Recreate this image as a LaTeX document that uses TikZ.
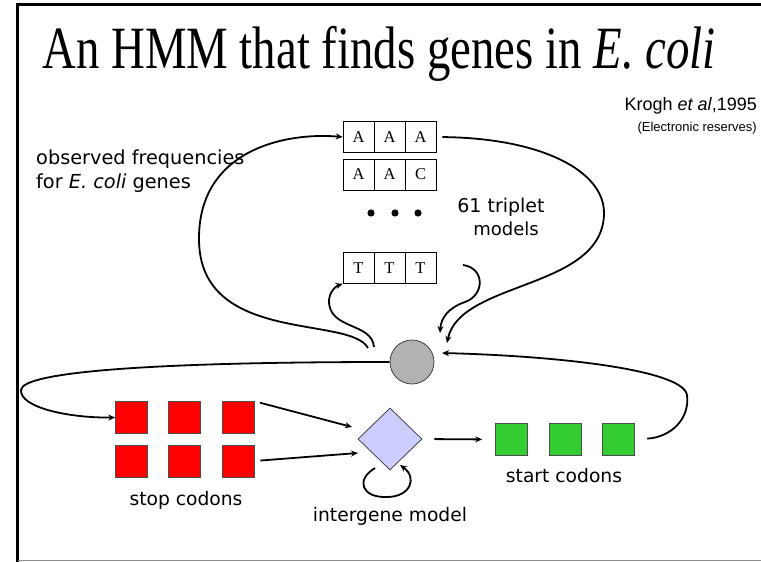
\documentclass[tikz,border=0pt]{standalone}
\usepackage{fontspec}
\setmainfont{Liberation Serif}
\newfontfamily\arialfont{Liberation Sans}
\newfontfamily\casualfont{DejaVu Sans}
\usetikzlibrary{arrows.meta,shapes.geometric}

\begin{document}
\begin{tikzpicture}[x=1pt,y=-1pt,
  link/.style={line width=1.8pt,-{Stealth[length=7pt,width=6pt]}},
  cell/.style={draw,line width=0.6pt,minimum width=31pt,minimum height=31pt,
    inner sep=0pt,font=\fontsize{16.5}{18}\selectfont},
  stopbox/.style={draw=black!70,line width=0.6pt,fill=red,minimum size=32pt,inner sep=0pt},
  startbox/.style={draw=black!70,line width=0.6pt,fill={rgb,255:red,51;green,204;blue,51},minimum size=32pt,inner sep=0pt},
  casual/.style={font=\casualfont\fontsize{18.7}{22}\selectfont,inner sep=0pt}]

\useasboundingbox (0,0) rectangle (761,562);
\fill[white] (0,0) rectangle (761,562);

% frame
\draw[line width=3pt,line cap=rect] (17,562) -- (17,4) -- (761,4);
\draw[line width=1.5pt,black!45] (18,560.5) -- (761,560.5);

% title and reference
\node[anchor=base,inner sep=0pt,font=\fontsize{60}{70}\selectfont] (title) at (379,68)
  {\scalebox{0.78}[1]{An HMM that finds genes in \textit{E.\ coli}}};
\node[anchor=base east,inner sep=0pt,font=\arialfont\fontsize{18}{20}\selectfont] (ref) at (757,110)
  {Krogh \textit{et al},1995};
\node[anchor=base east,inner sep=0pt,font=\arialfont\fontsize{13}{15}\selectfont] (res) at (757,131)
  {(Electronic reserves)};

% triplet models
\node[cell] (a1) at (358.5,137) {A};
\node[cell] (a2) at (389.5,137) {A};
\node[cell] (a3) at (420.5,137) {A};
\node[cell] (b1) at (358.5,174.5) {A};
\node[cell] (b2) at (389.5,174.5) {A};
\node[cell] (b3) at (420.5,174.5) {C};
\node[cell] (t1) at (358.5,268) {T};
\node[cell] (t2) at (389.5,268) {T};
\node[cell] (t3) at (420.5,268) {T};
\foreach \x in {371,395,418} \fill (\x,213) circle (3.6pt);

% labels
\node[casual,anchor=base west,font=\casualfont\fontsize{19.3}{22}\selectfont] (obs1) at (36,164) {observed frequencies};
\node[casual,anchor=base west,font=\casualfont\fontsize{19.3}{22}\selectfont] (obs2) at (36,188) {for {\itshape E.\ coli} genes};
\node[casual,anchor=base,font=\casualfont\fontsize{19}{22}\selectfont] (trip1) at (501,212) {61 triplet};
\node[casual,anchor=base,font=\casualfont\fontsize{18}{22}\selectfont] (trip2) at (506,235) {models};
\node[casual,anchor=base] (stoplab) at (186,505) {stop codons};
\node[casual,anchor=base] (startlab) at (564,482) {start codons};
\node[casual,anchor=base] (iglab) at (390,521) {intergene model};

% states
\node[circle,draw=black!80,line width=0.7pt,fill={rgb,255:red,178;green,178;blue,178},
  minimum size=44pt,inner sep=0pt] (hub) at (412,362) {};
\node[diamond,draw=black!80,line width=0.7pt,fill={rgb,255:red,204;green,204;blue,255},
  minimum width=64pt,minimum height=62pt,inner sep=0pt] (ig) at (390,439) {};

\node[stopbox] (s1) at (131.5,417.5) {};
\node[stopbox] (s2) at (184,417.5) {};
\node[stopbox] (s3) at (238,417.5) {};
\node[stopbox] (s4) at (131.5,461) {};
\node[stopbox] (s5) at (184,461) {};
\node[stopbox] (s6) at (238,461) {};

\node[startbox] (g1) at (511.5,439.5) {};
\node[startbox] (g2) at (565,439.5) {};
\node[startbox] (g3) at (618,439.5) {};

% free ends of connectors
\coordinate (o1) at (368,348);
\coordinate (o2) at (374,347);
\coordinate (q1) at (463,265);
\coordinate (h1) at (447,343);
\coordinate (h2) at (440,333);
\coordinate (h3) at (442,353);
\coordinate (d1) at (352,427);
\coordinate (d2) at (358,453);
\coordinate (l1) at (375,468);
\coordinate (l2) at (400,465);

% connectors around the triplet models
\draw[link] (o1) .. controls (350,315) and (200,345) .. (199,240)
  .. controls (198,150) and (285,132) .. (a1.west);
\draw[link] (o2) .. controls (372,322) and (328,330) .. (329,300)
  .. controls (330,291) and (336,286) .. (t1.south west);
\draw[link,shorten <=6pt] (a3.east) .. controls (540,138) and (603,170) .. (604,212)
  .. controls (605,290) and (460,280) .. (h1);
\draw[link] (q1) .. controls (485,268) and (485,295) .. (465,302)
  .. controls (448,308) and (441,318) .. (h2);

% hub to stop codons
\draw[link] (hub.west) .. controls (150,362) and (22,372) .. (21,390)
  .. controls (20,408) and (70,418) .. (s1.west);

% stop codons to intergene model
\draw[link,shorten <=6pt] (s3.north east) -- (d1);
\draw[link,shorten <=6pt] (s6.east) -- (d2);

% intergene model self loop and exit
\draw[link] (l1) .. controls (355,480) and (362,498) .. (387,497)
  .. controls (410,497) and (418,478) .. (l2);
\draw[link,shorten <=12pt,shorten >=13pt] (ig.east) -- (g1.west);

% start codons back to hub
\draw[link,shorten <=13pt] (g3.east) .. controls (672,437) and (690,418) .. (687,395)
  .. controls (683,370) and (560,356) .. (h3);

\end{tikzpicture}
\end{document}
